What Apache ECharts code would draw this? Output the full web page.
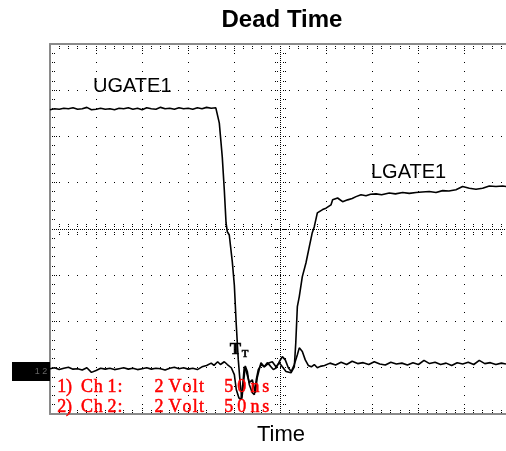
<!DOCTYPE html>
<html>
<head>
<meta charset="utf-8">
<title>Dead Time</title>
<script src="https://cdn.jsdelivr.net/npm/echarts@6/dist/echarts.min.js"></script>
<style>
  html, body { margin: 0; padding: 0; background: #fff; }
  #chart { width: 506px; height: 451px; }
</style>
</head>
<body>
<div id="chart"></div>
<script>
// scope capture: x in ns (50 ns/div, 0 = centre of screen), y in divisions (0 = centre)
const ugateTime = [
  -250, -245, -240, -235, -230, -225, -220, -215, -210, -205,
  -200, -195, -190, -185, -180, -175, -170, -165, -160, -155,
  -150, -145, -140, -135, -130, -125, -120, -115, -110, -105,
  -100, -95, -90, -85, -80, -75, -70,
  -66.2, -63.0, -60.8, -58.9, -57.5, -55.4, -52.1, -49.9, -47.8, -45.6, -43.4, -41.7,
  -39.6, -38.0, -35.8, -33.7, -30.4, -28.2, -26.1, -23.9, -20.6, -17.4, -14.1, -10.9, -7.6, -4.3, -1.1,
  2.2, 5.4, 8.7, 11.9, 15.2, 18.5, 20.6, 23.9, 27.1, 30.4, 33.7, 36.9, 40.2, 43.4,
  48, 54, 60, 66, 72, 78, 84, 90, 96, 102,
  108, 114, 120, 126, 132, 138, 144, 150, 156, 162,
  168, 174, 180, 186, 192, 198, 204, 210, 216, 222,
  228, 234, 240, 245
]
const ugateLevel = [
  2.58, 2.60, 2.59, 2.61, 2.60, 2.62, 2.59, 2.60, 2.63, 2.58,
  2.59, 2.61, 2.59, 2.60, 2.58, 2.61, 2.60, 2.62, 2.59, 2.61,
  2.58, 2.62, 2.60, 2.59, 2.63, 2.60, 2.61, 2.59, 2.62, 2.60,
  2.61, 2.59, 2.62, 2.60, 2.63, 2.61, 2.62,
  2.29, 1.56, 0.85, 0.13, -0.06, -0.13, -0.71, -1.21, -2.07, -2.83, -3.37, -3.67,
  -3.26, -2.96, -3.08, -3.36, -3.54, -3.58, -3.26, -3.04, -2.93, -2.98, -2.89, -2.96, -3.04, -3.00, -2.87,
  -2.76, -2.83, -3.00, -3.08, -2.93, -2.72, -2.57, -2.65, -2.83, -2.95, -2.98, -2.93, -3.00, -2.97,
  -2.95, -2.90, -2.94, -2.88, -2.93, -2.86, -2.91, -2.89, -2.93, -2.87,
  -2.92, -2.94, -2.88, -2.92, -2.90, -2.94, -2.89, -2.93, -2.84, -2.91,
  -2.88, -2.93, -2.90, -2.95, -2.89, -2.92, -2.88, -2.93, -2.84, -2.91,
  -2.89, -2.93, -2.90, -2.92
]

const lgateTime = [
  -250, -245, -240, -235, -230, -225, -220, -215, -210, -205,
  -200, -195, -190, -185, -180, -175, -170, -165, -160, -155,
  -150, -145, -140, -135, -130, -125, -120, -115, -110, -105,
  -100, -95, -90, -85, -80, -75, -72, -68, -65,
  -60.8, -57.5, -53.2, -49.9, -47.8, -45.0, -42.7, -40.7, -39.1, -36.9,
  -33.7, -30.4, -27.1, -25.0, -21.0, -17.4, -11.9, -8.7, -4.7, -1.1,
  2.2, 6.2, 11.6, 15.2,
  16.8, 18.5, 20.6, 23.9, 27.9, 31.5, 34.7, 36.9, 40.2, 45.9,
  49.6, 55.0, 56.8, 62.2, 67.6, 73.1,
  78, 82.2, 87.6, 93, 98, 103.9, 110, 118.3, 125, 132.8,
  140, 147.3, 154, 161.7, 169, 176.2, 183, 190.7, 197.9, 205.2,
  212.4, 219.6, 226.9, 234.1, 241.3, 245
]
const lgateLevel = [
  -3.02, -3.00, -3.04, -3.01, -2.99, -3.03, -3.02, -3.05, -3.00, -3.10,
  -3.06, -3.01, -3.03, -3.01, -3.04, -3.02, -3.00, -3.03, -3.01, -3.04,
  -3.02, -3.00, -3.03, -3.01, -3.02, -3.05, -3.01, -2.99, -3.02, -3.00,
  -3.03, -3.01, -3.04, -2.98, -2.95, -2.90, -2.95, -2.87, -2.93,
  -2.87, -2.93, -3.00, -3.15, -3.47, -3.65, -3.69, -3.36, -2.98, -3.08,
  -3.32, -3.26, -3.54, -3.21, -2.89, -2.98, -2.89, -2.87, -2.98, -2.89,
  -2.98, -3.08, -3.11, -2.98,
  -2.46, -1.68, -1.46, -1.03, -0.73, -0.38, -0.08, 0.05, 0.35, 0.42,
  0.45, 0.52, 0.63, 0.67, 0.59, 0.63,
  0.66, 0.70, 0.74, 0.72, 0.75, 0.76, 0.74, 0.78, 0.76, 0.79,
  0.77, 0.79, 0.80, 0.81, 0.79, 0.83, 0.82, 0.85, 0.92, 0.88,
  0.86, 0.88, 0.93, 0.92, 0.93, 0.92
]

const traceLabels = ['UGATE1', 'LGATE1']
const readoutLines = ['1) Ch 1:   2 Volt  50 ns', '2) Ch 2:   2 Volt  50 ns']

const chart = echarts.init(document.getElementById('chart'))

const toPairs = (t, v) => t.map((x, i) => [x, v[i]])
const black = '#000'
const frame = '#8a8a8a'
const sans = '"Liberation Sans", Arial, sans-serif'
const serif = '"Liberation Serif", "Times New Roman", serif'

// screen: 10 x 8 divisions, 5 minor steps per division
const xRange = { min: -250, max: 245 }
const yRange = { min: -4, max: 4 }
const xDiv = 50
const yDiv = 1

// x centres of the non-blank characters of a readout line
const readoutX = [61.7, 69, 87, 98.3, 112, 120, 159, 175, 187, 195.3, 201.5, 228.7, 241.7, 255, 265.8]
const readoutY = [387, 406.8]

const readoutText = []
readoutLines.forEach((line, row) => {
  line.replace(/ /g, '').split('').forEach((ch, i) => {
    readoutText.push({
      type: 'text',
      x: readoutX[i],
      y: readoutY[row],
      z: 10,
      style: {
        text: ch, fill: '#ff0000', stroke: '#ff0000', lineWidth: 0.5,
        font: '18px ' + serif, align: 'center', verticalAlign: 'middle'
      }
    })
  })
})

// dotted scope graticule, built from the axis scale
const renderGraticule = (params, api) => {
  const out = []
  const dot = (x, y) => out.push({
    type: 'rect',
    shape: { x: Math.round(x - 0.5), y: Math.round(y - 0.5), width: 1, height: 1 },
    style: { fill: black }
  })
  const px = (t, v) => api.coord([t, v])
  const xMinor = xDiv / 5
  const yMinor = yDiv / 5
  const nx = Math.floor((xRange.max - xRange.min) / xMinor + 1e-6)
  const ny = Math.round((yRange.max - yRange.min) / yMinor)
  const left = px(xRange.min, 0)[0]
  const right = px(xRange.max, 0)[0]
  const top = px(0, yRange.max)[1]
  const bottom = px(0, yRange.min)[1]
  const cx = px(0, 0)[0]
  const cy = px(0, 0)[1]

  // vertical division lines
  for (let t = xRange.min + xDiv; t < xRange.max; t += xDiv) {
    if (t === 0) continue
    for (let j = 1; j < ny; j++) {
      const p = px(t, yRange.min + j * yMinor)
      dot(p[0], p[1])
    }
  }
  // horizontal division lines
  for (let v = yRange.min + yDiv; v < yRange.max; v += yDiv) {
    if (v === 0) continue
    for (let i = 1; i <= nx; i++) {
      const p = px(xRange.min + i * xMinor, v)
      dot(p[0], p[1])
    }
  }
  // centre cross with minor ticks
  for (let y = top + 2; y < bottom - 1; y += 2) dot(cx, y)
  for (let x = left + 2; x < right; x += 2) dot(x, cy)
  for (let j = 1; j < ny; j++) {
    const y = px(0, yRange.min + j * yMinor)[1]
    for (const d of [-5, -3, 3, 5]) dot(cx + d, y)
  }
  for (let i = 1; i <= nx; i++) {
    const x = px(xRange.min + i * xMinor, 0)[0]
    for (const d of [-5, -3, 3, 5]) dot(x, cy + d)
  }
  // ticks inside the frame
  for (let i = 1; i <= nx; i++) {
    const t = xRange.min + i * xMinor
    const x = px(t, 0)[0]
    const n = (t % xDiv === 0) ? 3 : 2
    for (let k = 1; k <= n; k++) {
      dot(x, top + 2 * k)
      dot(x, bottom - 2 * k)
    }
  }
  for (let j = 1; j < ny; j++) {
    const y = px(0, yRange.min + j * yMinor)[1]
    const n = (j % 5 === 0) ? 3 : 2
    for (let k = 1; k <= n; k++) dot(left + 2 * k, y)
  }
  return { type: 'group', children: out }
}

const frameAxis = (position, extra) => Object.assign({
  type: 'value',
  position: position,
  axisLine: { onZero: false, lineStyle: { color: frame, width: 2 } },
  axisTick: { show: false },
  axisLabel: { show: false },
  splitLine: { show: false }
}, extra)

const option = {
  animation: false,
  backgroundColor: '#fff',
  title: {
    text: 'Dead Time',
    left: 277,
    top: 3,
    textAlign: 'center',
    textStyle: { fontFamily: sans, fontSize: 24, fontWeight: 'bold', color: black }
  },
  grid: { left: 50, right: 0, top: 44, bottom: 36 },
  xAxis: [
    frameAxis('bottom', Object.assign({}, xRange, {
      name: 'Time',
      nameLocation: 'middle',
      nameGap: 10,
      nameTextStyle: { fontFamily: sans, fontSize: 22, color: black, verticalAlign: 'top', padding: [0, 0, 0, 6] }
    })),
    frameAxis('top', Object.assign({}, xRange))
  ],
  yAxis: [
    frameAxis('left', Object.assign({}, yRange))
  ],
  series: [
    {
      type: 'custom',
      silent: true,
      z: 1,
      data: [[0, 0]],
      renderItem: renderGraticule
    },
    {
      name: traceLabels[0],
      type: 'line',
      data: toPairs(ugateTime, ugateLevel),
      symbol: 'none',
      lineStyle: { color: black, width: 1.6 },
      z: 5
    },
    {
      name: traceLabels[1],
      type: 'line',
      data: toPairs(lgateTime, lgateLevel),
      symbol: 'none',
      lineStyle: { color: black, width: 1.6 },
      z: 5
    }
  ],
  graphic: [
    // channel ground marker
    { type: 'rect', shape: { x: 12, y: 362, width: 38, height: 19 }, style: { fill: black }, z: 10 },
    {
      type: 'text', x: 41, y: 372, z: 11,
      style: { text: '1 2', fill: '#666', font: '9px ' + sans, align: 'center', verticalAlign: 'middle' }
    },
    {
      type: 'text', x: 93, y: 86, z: 10,
      style: { text: traceLabels[0], fill: black, font: '20px ' + sans, align: 'left', verticalAlign: 'middle' }
    },
    {
      type: 'text', x: 371, y: 172, z: 10,
      style: { text: traceLabels[1], fill: black, font: '20px ' + sans, align: 'left', verticalAlign: 'middle' }
    },
    // trigger marker
    {
      type: 'text', x: 235.5, y: 350, z: 10,
      style: { text: 'T', fill: black, stroke: black, lineWidth: 0.6, font: 'bold 17px ' + serif, align: 'center', verticalAlign: 'middle' }
    },
    {
      type: 'text', x: 245, y: 354.5, z: 10,
      style: { text: 'T', fill: black, stroke: black, lineWidth: 0.4, font: 'bold 10px ' + serif, align: 'center', verticalAlign: 'middle' }
    }
  ].concat(readoutText)
}

chart.setOption(option)
</script>
</body>
</html>
